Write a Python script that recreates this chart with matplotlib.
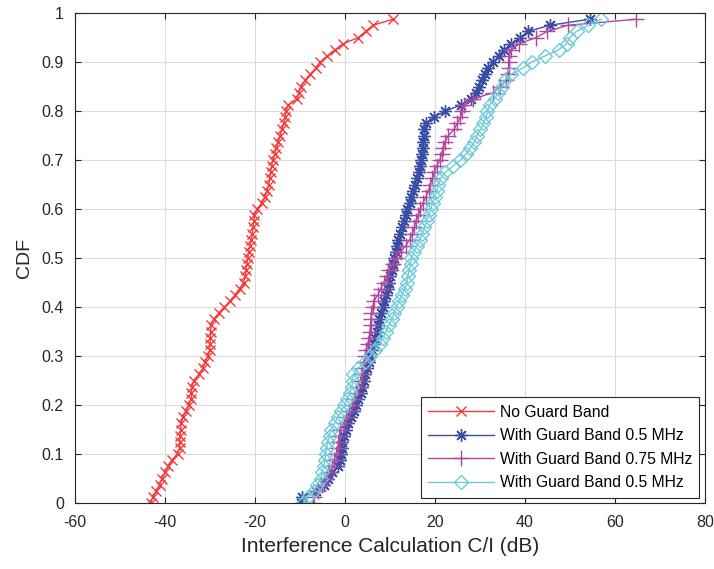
import numpy as np
import matplotlib
matplotlib.use("Agg")
import matplotlib.pyplot as plt

plt.rcParams['font.family'] = ['Liberation Sans', 'DejaVu Sans']
plt.rcParams['axes.unicode_minus'] = False

# sorted C/I samples (dB), 80 users each
no_guard = [-43.2, -42.6, -41.9, -41.2, -40.6, -40.0, -39.3, -38.5, -37.2, -36.7,
            -36.7, -36.6, -36.5, -36.4, -36.0, -35.4, -34.7, -34.1, -34.1, -34.0,
            -33.6, -32.4, -31.6, -31.0, -30.5, -30.0, -30.0, -29.9, -29.8, -29.8,
            -29.2, -28.0, -26.8, -25.5, -24.4, -23.4, -22.5, -22.1, -22.0, -21.8,
            -21.6, -21.4, -21.1, -20.8, -20.6, -20.4, -20.2, -20.1, -19.5, -18.5,
            -17.8, -17.3, -16.9, -16.7, -16.5, -16.3, -16.0, -15.6, -15.2, -14.8,
            -14.4, -14.0, -13.5, -13.2, -13.1, -12.6, -10.6, -10.2, -9.8, -8.9,
            -7.7, -6.4, -5.5, -3.9, -2.2, -0.4, 3.0, 4.6, 6.2, 10.7]

guard_05 = [-9.7, -9.5, -6.5, -4.6, -3.8, -2.8, -1.6, -1.0, -0.8, -0.7,
            -0.6, -0.3, 0.2, 0.7, 1.4, 2.0, 2.5, 2.9, 3.5, 3.9,
            4.2, 4.5, 4.9, 5.3, 5.6, 6.0, 6.4, 6.8, 7.2, 7.4,
            7.7, 8.0, 8.4, 8.8, 9.2, 9.5, 9.8, 10.1, 10.4, 10.6,
            10.9, 11.3, 11.6, 11.9, 12.2, 12.7, 13.1, 13.5, 13.9, 14.4,
            14.8, 15.2, 15.6, 16.0, 16.4, 16.7, 16.9, 17.1, 17.3, 17.4,
            17.6, 17.7, 18.0, 19.8, 22.3, 25.9, 28.0, 29.2, 29.8, 30.4,
            31.1, 31.8, 33.0, 34.2, 35.4, 37.0, 39.0, 40.7, 45.5, 54.4]

guard_075 = [-7.1, -6.8, -5.9, -5.0, -4.2, -3.5, -2.9, -2.4, -1.9, -1.6,
             -1.4, -1.2, -1.0, -0.3, 0.3, 0.9, 1.5, 2.0, 2.5, 3.0,
             3.5, 3.8, 4.1, 4.3, 4.5, 4.8, 5.1, 5.4, 5.6, 5.7,
             5.8, 5.9, 6.2, 6.5, 7.3, 8.0, 8.6, 9.3, 9.9, 10.6,
             11.4, 12.4, 13.5, 14.4, 15.0, 15.4, 15.8, 16.3, 16.8, 17.4,
             18.0, 18.6, 19.0, 19.4, 19.9, 20.4, 21.1, 21.5, 21.9, 22.3,
             23.0, 24.3, 25.0, 25.7, 26.1, 26.5, 28.5, 33.0, 34.5, 35.9,
             36.2, 36.4, 36.4, 36.5, 37.0, 38.8, 42.5, 45.0, 49.5, 64.8]

guard_05b = [-9.3, -8.3, -6.8, -6.2, -5.4, -5.0, -4.7, -4.4, -4.3, -4.0,
             -3.8, -3.4, -3.1, -2.3, -1.6, -0.8, -0.1, 0.5, 1.1, 1.6,
             1.7, 1.9, 2.9, 4.5, 5.6, 6.6, 7.8, 8.5, 9.2, 9.8,
             10.4, 11.0, 11.5, 12.1, 12.7, 13.3, 13.8, 14.0, 14.3, 14.6,
             14.8, 15.3, 16.0, 16.7, 17.2, 17.7, 18.2, 18.6, 19.1, 19.5,
             20.0, 20.4, 20.8, 21.3, 22.3, 24.0, 25.7, 27.0, 27.9, 28.8,
             29.4, 30.1, 30.8, 31.4, 31.7, 32.2, 33.3, 34.1, 34.9, 35.5,
             36.9, 39.5, 41.5, 44.5, 47.5, 49.3, 50.0, 51.5, 54.1, 57.0]

labels = ["No Guard Band", "With Guard Band 0.5 MHz",
          "With Guard Band 0.75 MHz", "With Guard Band 0.5 MHz"]


def cdf(samples):
    x = np.sort(np.array(samples))
    y = np.arange(len(x)) / len(x)
    return x, y


fig = plt.figure(figsize=(7.14, 5.69), dpi=100)
ax = fig.add_axes([0.105, 0.116, 0.882, 0.861])

x, y = cdf(no_guard)
ax.plot(x, y, color='#f23a3a', lw=1.0, marker='x', ms=7, mew=1.0, label=labels[0])
x, y = cdf(guard_05)
ax.plot(x, y, color='#3a4ea6', lw=1.0, marker=(8, 2, 0), ms=9, mew=1.0, label=labels[1])
x, y = cdf(guard_075)
ax.plot(x, y, color='#b0479f', lw=1.0, marker='+', ms=11, mew=1.0, label=labels[2])
x, y = cdf(guard_05b)
ax.plot(x, y, color='#6ccbd9', lw=1.0, marker='D', ms=7, mew=1.0,
        mfc='none', label=labels[3])

ax.set_xlim(-60, 80)
ax.set_ylim(0, 1)
ax.set_xticks(np.arange(-60, 81, 20))
ax.set_yticks(np.arange(0, 1.01, 0.1))
ax.set_yticklabels(['0', '0.1', '0.2', '0.3', '0.4', '0.5', '0.6', '0.7', '0.8', '0.9', '1'])
ax.grid(True, color='#dcdcdc', lw=0.8)
ax.set_axisbelow(True)
ax.tick_params(direction='in', length=4, labelsize=11.5, colors='#262626', top=True, right=True,
               labeltop=False, labelright=False)
ax.tick_params(axis='x', pad=9)
ax.tick_params(axis='y', pad=8)
for s in ax.spines.values():
    s.set_color('#262626')
    s.set_linewidth(0.8)

ax.set_xlabel("Interference Calculation C/I (dB)", fontsize=15, color='#262626', labelpad=5)
ax.set_ylabel("CDF", fontsize=14, color='#262626', labelpad=6)

leg = ax.legend(loc='lower right', fontsize=11.3, handlelength=4.2, handletextpad=0.4,
                fancybox=False, framealpha=1, edgecolor='#262626', borderaxespad=0.35,
                labelspacing=0.55, borderpad=0.45)
leg.get_frame().set_linewidth(0.8)

fig.savefig("out.png", dpi=100)
